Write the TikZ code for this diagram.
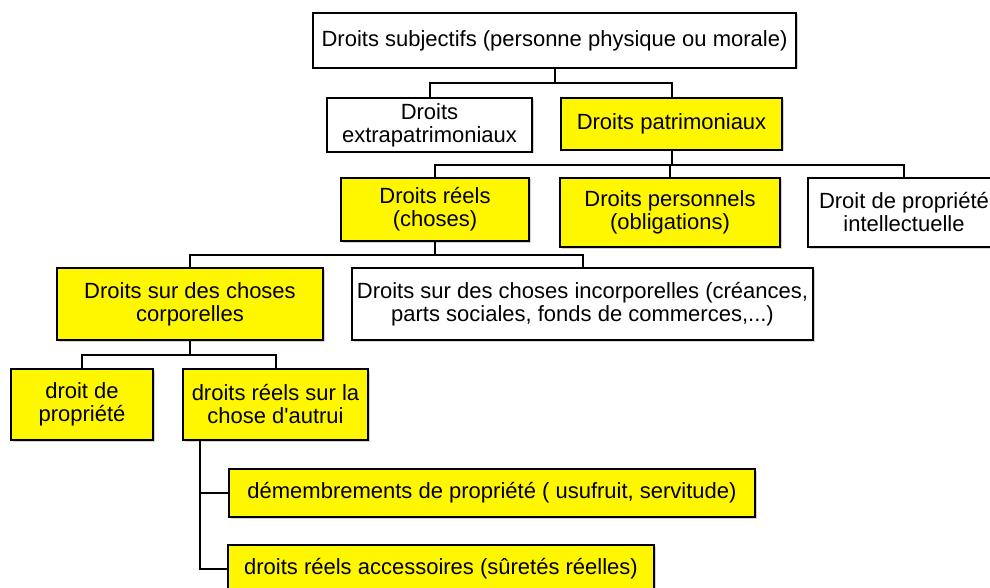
\documentclass[tikz,border=0pt]{standalone}
\usepackage{fontspec}
\setmainfont{Liberation Sans}[Ligatures=TeXOff]
\usetikzlibrary{shadows}
\definecolor{boxyellow}{RGB}{255,247,0}
\begin{document}
\begin{tikzpicture}[x=1pt,y=-1pt,
  box/.style={draw=black, line width=1.8pt, fill=white, rectangle, align=center,
    inner sep=0pt, font=\fontsize{22}{23}\selectfont,
    drop shadow={shadow xshift=1.5pt, shadow yshift=-1.5pt, opacity=0.35, fill=gray}},
  ybox/.style={box, fill=boxyellow},
  link/.style={draw=black, line width=2pt}]
\useasboundingbox (0,0) rectangle (990,588);
\node[box, minimum width=483pt, minimum height=55pt] (top) at (554.5,40.5) {Droits subjectifs (personne physique ou morale)};
\node[box, minimum width=205pt, minimum height=54pt] (extra) at (429.5,125) {Droits\\extrapatrimoniaux};
\node[ybox, minimum width=221pt, minimum height=52pt] (patri) at (671.5,124) {Droits patrimoniaux};
\node[ybox, minimum width=188pt, minimum height=63pt] (reels) at (435,209.5) {Droits réels\\(choses)};
\node[ybox, minimum width=220pt, minimum height=69pt] (perso) at (670,212.5) {Droits personnels\\(obligations)};
\node[box, minimum width=192pt, minimum height=69pt] (intel) at (904,212.5) {Droit de propriété\\intellectuelle};
\node[ybox, minimum width=266pt, minimum height=72pt] (corp) at (190,304) {Droits sur des choses\\corporelles};
\node[box, minimum width=461pt, minimum height=72pt] (incorp) at (582.5,304) {Droits sur des choses incorporelles (créances,\\parts sociales, fonds de commerces,...)};
\node[ybox, minimum width=142pt, minimum height=71pt] (prop) at (82,404.5) {droit de\\propriété};
\node[ybox, minimum width=185pt, minimum height=71pt] (autrui) at (275.5,404.5) {droits réels sur la\\chose d'autrui};
\node[ybox, minimum width=526pt, minimum height=48pt] (demem) at (492,493) {démembrements de propriété ( usufruit, servitude)};
\node[ybox, minimum width=426pt, minimum height=48pt] (access) at (441,569) {droits réels accessoires (sûretés réelles)};
\draw[link] (top.south) -- ++(0,14) -| (extra.north);
\draw[link] (top.south) -- ++(0,14) -| (patri.north);
\draw[link] (patri.south) -- ++(0,14) -| (reels.north);
\draw[link] (patri.south) -- ++(0,14) -| (perso.north);
\draw[link] (patri.south) -- ++(0,14) -| (intel.north);
\draw[link] (reels.south) -- ++(0,13) -| (corp.north);
\draw[link] (reels.south) -- ++(0,13) -| (incorp.north);
\draw[link] (corp.south) -- ++(0,14) -| (prop.north);
\draw[link] (corp.south) -- ++(0,14) -| (autrui.north);
\draw[link] (autrui.south west) ++(18,0) |- (demem.west);
\draw[link] (autrui.south west) ++(18,0) |- (access.west);
\end{tikzpicture}
\end{document}
